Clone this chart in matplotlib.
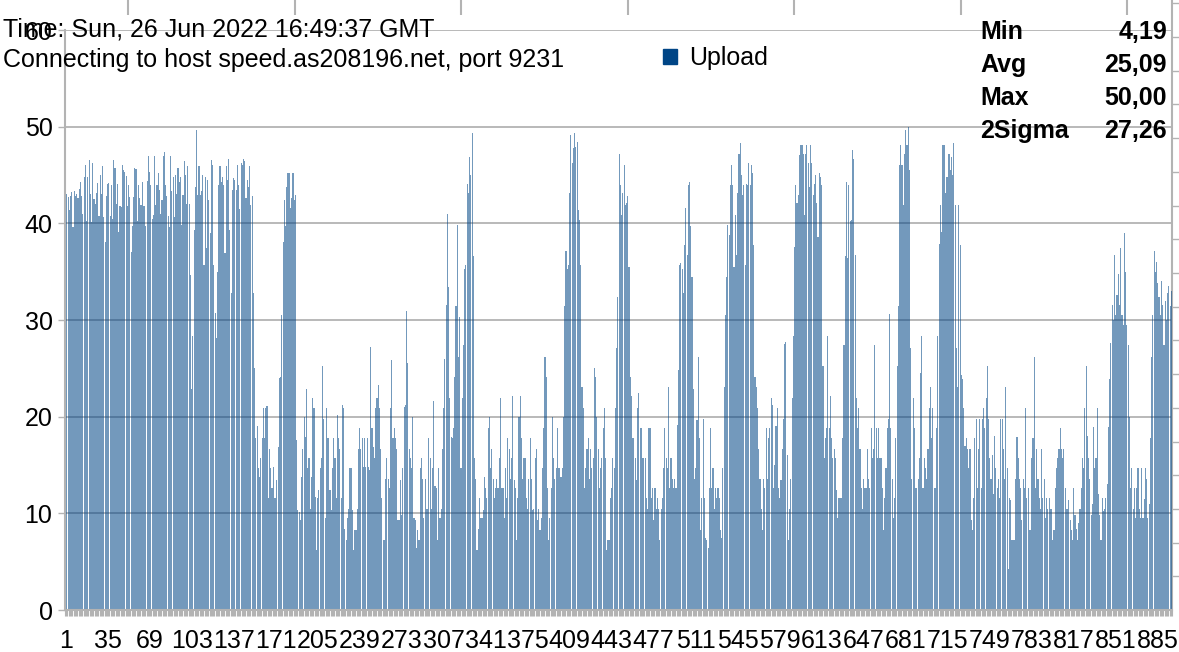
import matplotlib
matplotlib.use("Agg")
import matplotlib.pyplot as plt
import numpy as np
from matplotlib.patches import Patch

plt.rcParams["font.family"] = ["Liberation Sans", "DejaVu Sans"]

# upload speed per test in chunks from left to right
upload_a = [36.6, 43.0, 42.7, 41.4, 42.8, 43.2, 39.6, 43.3, 42.8, 43.0,
            42.6, 43.6, 44.3, 42.8, 41.0, 44.8, 46.0, 40.2, 44.8, 46.6,
            43.0, 40.1, 46.2, 42.5, 42.0, 43.1, 44.2, 40.8, 45.0, 43.0,
            45.9, 40.7, 38.1, 42.8, 44.1, 44.2, 40.8, 44.0, 40.5, 46.6,
            45.7, 42.0, 44.1, 39.1, 41.8, 41.7, 46.0, 45.5, 45.3, 44.9,
            41.8, 44.0, 42.7, 37.0, 39.7, 42.7, 45.7, 45.6, 40.2, 44.0,
            42.6, 41.9, 44.3, 41.8, 41.8, 39.7, 44.4, 47.0, 45.3, 44.0,
            40.5, 40.9, 47.0, 41.9, 44.0, 45.2, 43.5, 41.0]
upload_b = [42.4, 47.0, 47.4, 44.0, 42.8, 40.8, 39.6, 47.0, 43.3, 44.8,
            40.7, 45.0, 43.0, 45.7, 44.3, 44.8, 39.8, 42.9, 46.4, 45.0,
            42.0, 45.9, 42.0, 34.7, 22.9, 28.3, 39.3, 43.8, 49.7, 42.9,
            45.9, 42.9, 43.3, 45.0, 35.7, 44.8, 37.4, 44.5, 42.4, 39.0,
            46.6, 46.0, 35.7, 30.7, 28.1, 35.0, 44.0, 45.9, 44.3, 44.8,
            44.0, 36.9, 45.9, 44.5, 46.7, 39.3, 32.8, 43.4, 44.7, 44.5,
            43.4, 46.0, 44.0, 41.5, 46.2, 46.0, 46.7, 46.4, 42.6, 44.5,
            43.8, 45.9, 41.9, 42.8, 32.8, 25.0, 17.8, 19.0, 14.7, 13.8,
            15.7, 17.8, 20.9]
upload_c = [17.8, 20.9, 21.1, 11.6, 16.7, 14.7, 12.6, 14.8, 11.6, 11.6,
            13.4, 16.9, 24.0, 24.1, 30.5, 38.1, 42.4, 39.7, 43.8, 45.2,
            45.2, 41.6, 42.6, 45.2, 42.4, 42.9, 17.6, 10.3, 10.1, 9.3,
            13.8, 16.7, 20.0, 17.9, 22.9, 14.7, 15.7, 10.5, 13.8, 21.9,
            20.9, 11.7, 6.2, 11.6, 12.4, 14.7, 15.7, 25.2, 19.8, 9.5,
            20.9, 17.8, 17.8, 12.4, 10.3, 14.7, 17.8, 15.7, 11.6, 20.2,
            17.8, 16.7, 11.6, 21.2, 20.9, 8.4, 7.2, 9.5, 10.5, 14.7,
            14.7, 10.3, 6.2, 8.3, 8.3, 10.5, 16.7, 18.8, 16.7, 17.8,
            14.8, 17.8, 14.8]
upload_d = [17.8, 14.8, 14.5, 27.2, 18.8, 16.9, 15.7, 20.9, 21.9, 23.3,
            20.9, 16.7, 11.6, 7.2, 7.2, 13.6, 15.7, 13.6, 12.6, 20.9,
            25.9, 17.8, 18.8, 17.8, 16.7, 9.3, 9.3, 13.4, 9.8, 14.7,
            21.0, 21.2, 30.9, 25.6, 16.7, 15.7, 14.7, 20.0, 9.5, 9.3,
            6.4, 8.3, 7.2, 14.7, 15.7, 13.6, 9.5, 13.6, 10.5, 10.5,
            17.8, 15.7, 10.5, 14.7, 21.6, 12.8, 12.6, 7.2, 14.7, 9.5,
            10.5, 16.7, 20.9, 26.0, 31.6, 41.0, 33.4, 21.9, 17.9, 17.8,
            18.8, 24.1, 31.4, 39.8, 26.2, 30.3, 14.7, 21.9, 27.4, 35.3,
            35.7, 44.1, 43.1, 46.9]
upload_e = [45.0, 49.3, 36.6, 15.7, 13.6, 6.2, 8.4, 11.6, 9.5, 9.5,
            10.3, 13.8, 12.6, 11.6, 18.8, 20.0, 14.7, 16.7, 13.6, 11.6,
            12.6, 13.6, 12.6, 15.7, 21.9, 12.6, 12.6, 9.5, 14.7, 11.6,
            17.8, 16.7, 13.6, 15.7, 22.1, 13.4, 12.6, 7.2, 11.6, 20.0,
            22.1, 17.8, 13.6, 15.7, 15.7, 11.6, 10.5, 13.6, 17.8, 13.6,
            10.3, 10.5, 15.7, 16.7, 9.3, 10.5, 8.3, 9.5, 14.7, 18.8,
            26.2, 24.1, 12.6, 7.2, 9.5, 12.6, 20.0, 15.7, 13.6, 14.7,
            18.8, 14.7, 14.7, 13.8, 14.7, 20.0, 31.4, 37.1, 35.3, 35.7,
            43.1, 49.1]
upload_f = [46.2, 47.8, 49.3, 47.9, 48.4, 41.4, 40.3, 35.7, 23.1, 20.9,
            12.6, 14.7, 16.7, 17.8, 13.6, 16.7, 14.7, 15.7, 25.0, 24.1,
            20.0, 16.7, 12.6, 14.7, 15.7, 18.8, 20.9, 15.7, 6.2, 7.2,
            7.2, 11.6, 12.6, 15.7, 14.7, 20.9, 27.1, 32.4, 47.2, 44.0,
            40.9, 43.1, 46.0, 41.9, 42.1, 42.8, 35.5, 24.1, 22.1, 17.8,
            17.8, 15.7, 13.4, 20.9, 22.4, 18.8, 18.8, 15.7, 15.7, 15.7,
            11.6, 10.5, 18.8, 18.8, 11.6, 12.6, 9.3, 12.6, 10.5, 11.6,
            10.5, 7.2, 10.5, 11.6, 14.7, 18.8, 15.7, 14.7, 23.1, 12.6,
            15.7, 13.6, 12.6]
upload_g = [13.6, 12.6, 19.1, 24.8, 35.7, 35.9, 35.3, 32.8, 37.8, 41.6,
            36.7, 44.0, 44.3, 39.7, 34.5, 22.9, 13.6, 14.7, 19.7, 26.2,
            17.8, 8.3, 11.6, 19.8, 11.6, 7.4, 7.2, 6.4, 12.6, 18.8,
            12.6, 14.7, 10.5, 12.6, 11.6, 12.6, 11.6, 8.3, 7.4, 14.7,
            23.1, 30.5, 34.5, 39.8, 38.8, 44.0, 46.0, 44.0, 35.5, 40.9,
            36.7, 43.1, 47.2, 48.3, 45.0, 42.9, 44.0, 35.7, 44.1, 44.0,
            46.2, 44.0, 46.0, 45.2, 37.8, 24.1, 23.1, 20.9, 16.7, 13.6,
            10.5, 8.3, 13.6, 12.6, 18.8, 13.6, 17.8, 18.8, 21.9, 21.2,
            12.6, 15.0, 19.0]
upload_h = [20.9, 12.6, 11.6, 13.4, 16.7, 19.8, 27.5, 27.7, 16.0, 7.2,
            10.5, 13.6, 21.9, 28.3, 37.6, 44.0, 42.1, 42.9, 47.1, 48.1,
            48.1, 47.2, 40.9, 47.2, 48.1, 46.2, 43.8, 48.1, 46.2, 42.9,
            44.1, 45.0, 42.1, 38.6, 45.2, 44.8, 44.0, 25.2, 15.7, 17.8,
            18.8, 28.3, 18.8, 22.1, 17.8, 15.7, 16.7, 15.7, 12.4, 9.5,
            11.6, 11.6, 11.6, 17.8, 27.4, 36.6, 44.3, 36.4, 44.0, 40.2,
            40.3, 47.6, 46.7, 36.7, 21.9, 18.8, 20.9, 16.7, 12.6, 10.5,
            13.6, 12.6, 12.6, 16.7, 13.6, 12.6, 18.8, 15.7, 16.7, 27.4,
            18.8, 15.7]
upload_i = [18.8, 15.7, 15.7, 12.6, 8.3, 11.6, 14.7, 18.8, 19.8, 30.6,
            18.8, 13.6, 9.5, 11.6, 17.8, 25.2, 31.4, 46.0, 48.1, 46.0,
            41.9, 47.2, 49.7, 48.1, 50.0, 45.5, 27.1, 13.6, 21.9, 18.8,
            12.6, 12.6, 13.6, 15.7, 24.5, 28.3, 12.6, 15.7, 14.7, 13.6,
            16.7, 20.9, 23.1, 17.8, 20.9, 12.6, 12.6, 18.8, 28.3, 37.9,
            41.9, 39.1, 48.1, 48.1, 43.1, 44.8, 44.8, 47.2, 45.5, 46.9,
            45.0, 48.3, 41.9, 27.1, 23.1, 41.9, 37.8, 24.3, 23.9, 20.9,
            17.0, 17.8, 16.7, 14.7, 16.7, 9.3, 8.3, 11.6, 17.8, 19.8,
            12.6, 16.7]
upload_j = [19.8, 12.6, 19.8, 20.9, 18.8, 21.9, 25.2, 19.8, 15.7, 13.6,
            16.0, 12.0, 18.0,
            14.7, 12.6, 13.6, 11.6, 19.8, 19.8, 16.7, 13.6, 23.1, 14.7,
            4.19, 11.6, 11.4, 7.2, 7.2, 7.2, 13.6, 17.9, 15.7, 13.6,
            12.6, 9.3, 13.6, 12.6, 20.9, 11.6, 12.6, 8.3, 8.3, 15.7,
            17.8, 26.2, 12.6, 16.7, 13.6, 11.6, 10.5, 16.7, 11.6, 13.6,
            9.5, 11.6, 10.5, 11.6, 10.5, 10.5, 7.2, 8.3, 12.6, 14.7,
            15.7, 16.7, 18.8, 16.7, 15.7, 16.7, 12.6, 10.5, 10.5, 11.4,
            9.3, 8.3, 7.2, 12.6, 9.8]
upload_k = [8.4, 7.2, 9.0, 10.5, 12.6, 15.7, 14.7, 20.9, 25.2, 18.0,
            15.7, 13.6, 9.8, 11.0, 18.9, 14.7, 15.7, 20.9, 12.0, 9.8,
            7.2, 11.6, 10.2, 10.5, 11.6, 13.0,
            18.9, 23.9, 27.6, 31.6, 30.0, 36.7, 30.5, 32.6, 34.8, 31.6,
            37.5, 30.5, 29.5, 39.0, 35.0, 29.5, 27.4, 20.0,
            12.6, 14.7, 10.5, 12.6, 9.5, 12.6, 14.7, 10.5, 9.5, 14.7,
            9.5, 11.5, 14.7, 13.6, 9.5, 11.0, 17.8,
            26.2, 30.5, 37.1, 35.0, 36.0, 33.8, 32.4, 30.5, 34.0, 31.6,
            27.4, 32.0, 30.0, 32.8, 33.5, 31.4, 33.0]

stat_names = ["Min", "Avg", "Max", "2Sigma"]
stat_values = ["4,19", "25,09", "50,00", "27,26"]

title_line = "Time: Sun, 26 Jun 2022 16:49:37 GMT"
host_line = "Connecting to host speed.as208196.net, port 9231"
series_name = "Upload"

upload = np.array(upload_a + upload_b + upload_c + upload_d + upload_e + upload_f
                  + upload_g + upload_h + upload_i + upload_j + upload_k)
n = len(upload)
x = np.arange(n)

W, H = 1179, 652
BLUE = "#004586"
GRID = "#b3b3b3"
FS = 18


def px_box(x0, y0, x1, y1):
    # pixel box measured from the top-left corner -> figure fractions
    return [x0 / W, 1 - y1 / H, (x1 - x0) / W, (y1 - y0) / H]


fig = plt.figure(figsize=(W / 100, H / 100), dpi=100)

# frame of the hidden second chart: right axis ticks and short top ticks
ax2 = fig.add_axes(px_box(65, 0, 1172, 610))
ax2.patch.set_visible(False)
for side in ["left", "top", "bottom"]:
    ax2.spines[side].set_visible(False)
ax2.spines["right"].set_color(GRID)
ax2.spines["right"].set_linewidth(1.5)
ax2.set_xlim(0, 1)
ax2.set_ylim(0, 610 / 33.7)
ax2.yaxis.tick_right()
ax2.set_yticks(np.arange(1, 19))
ax2.xaxis.tick_top()
ax2.set_xticks([(63 + 166.5 * k) / 1107 for k in range(7)])
ax2.tick_params(axis="y", length=5, width=1, color=GRID, labelright=False)
ax2.tick_params(axis="x", direction="in", length=11, width=1.5, color=GRID,
                labeltop=False)

ax = fig.add_axes(px_box(65, 30, 1172, 610))
ax.patch.set_visible(False)
ax.bar(x, upload, width=0.9, color=BLUE, alpha=0.55, linewidth=0, zorder=2)

ax.set_xlim(-0.5, n - 0.5)
ax.set_ylim(0, 60)
ax.set_yticks(range(0, 61, 10))
ax.yaxis.grid(True, color=GRID, linewidth=1.3)
ax.set_axisbelow(True)

label_pos = np.arange(0, n, 34)
ax.set_xticks(label_pos)
ax.set_xticklabels([str(i + 1) for i in label_pos])
ax.set_xticks(np.arange(n + 1) - 0.5, minor=True)

ax.tick_params(axis="x", which="major", length=0, pad=14, labelsize=FS)
ax.tick_params(axis="x", which="minor", length=4, width=0.8, color=GRID)
ax.tick_params(axis="y", length=5, width=1, color=GRID, pad=4, labelsize=FS)

for side in ["top", "right"]:
    ax.spines[side].set_visible(False)
for side in ["left", "bottom"]:
    ax.spines[side].set_color(GRID)
    ax.spines[side].set_linewidth(1.5)

fig.text(3 / W, 1 - 30 / H, title_line, fontsize=FS, ha="left", va="center")
fig.text(3 / W, 1 - 60 / H, host_line, fontsize=FS, ha="left", va="center")

for k, (name, val) in enumerate(zip(stat_names, stat_values)):
    y = 1 - (32 + 33 * k) / H
    fig.text(980 / W, y, name, fontsize=FS, fontweight="bold", ha="left", va="center")
    fig.text(1167 / W, y, val, fontsize=FS, fontweight="bold", ha="right", va="center")

fig.legend(handles=[Patch(color=BLUE)], labels=[series_name],
           loc="center left", bbox_to_anchor=(663 / W, 1 - 58 / H),
           frameon=False, fontsize=FS, handlelength=0.56, handleheight=0.56,
           handletextpad=0.5, borderpad=0, borderaxespad=0)

fig.savefig("out.png", dpi=100)
